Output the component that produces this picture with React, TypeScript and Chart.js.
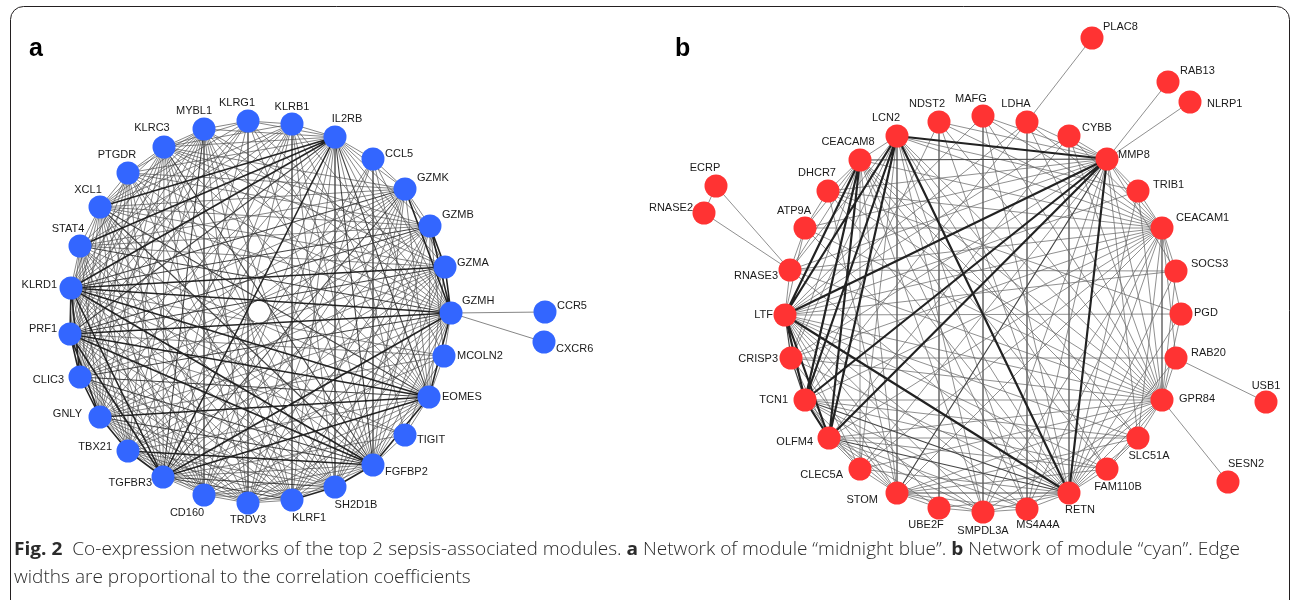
import { useEffect, useRef } from "react";
import { Chart, registerables } from "chart.js";
Chart.register(...registerables);

// ---------- Panel a: module "midnight blue" ----------
const A_NAMES = ["MYBL1","KLRG1","KLRB1","IL2RB","CCL5","GZMK","GZMB","GZMA","GZMH","MCOLN2","EOMES","TIGIT","FGFBP2","SH2D1B","KLRF1","TRDV3","CD160","TGFBR3","TBX21","GNLY","CLIC3","PRF1","KLRD1","STAT4","XCL1","PTGDR","KLRC3","CCR5","CXCR6"];
const A_X = [204,248,292,335,373,405,430,445,451,444,429,405,373,335,292,248,204,163,128,100,80,70,71,80,100,128,164,545,544];
const A_Y = [129,121,124,137,159,189,226,267,313,356,397,435,465,487,500,503,495,477,451,417,377,334,288,246,207,173,147,312,342];
const A_HIDDEN_X = [259];
const A_HIDDEN_Y = [312];

const A_ADJ: Record<string, string[]> = {
  MYBL1: ["KLRG1","KLRC3","IL2RB","PTGDR","TGFBR3","CD160","TRDV3","KLRF1","SH2D1B","FGFBP2","EOMES","TBX21","GNLY","PRF1","KLRD1","CLIC3","GZMH","GZMA","XCL1","STAT4"],
  KLRG1: ["KLRB1","TGFBR3","FGFBP2","EOMES","KLRD1","PRF1","TRDV3","GZMH","CLIC3","XCL1","KLRC3"],
  KLRB1: ["IL2RB","KLRF1","TGFBR3","FGFBP2","EOMES","CD160","SH2D1B","PRF1","KLRD1","XCL1","GNLY","TBX21","KLRC3","STAT4","GZMH"],
  IL2RB: ["CCL5","GZMK","GZMB","GZMA","GZMH","MCOLN2","EOMES","TIGIT","FGFBP2","SH2D1B","KLRF1","TRDV3","CD160","TGFBR3","TBX21","GNLY","CLIC3","PRF1","KLRD1","STAT4","XCL1","PTGDR","KLRC3","KLRG1"],
  CCL5: ["GZMK","FGFBP2","TRDV3","CD160","TGFBR3","EOMES","GZMH"],
  GZMK: ["GZMB","GZMA","GZMH","EOMES","FGFBP2","SH2D1B","KLRF1","TRDV3","CD160","TGFBR3","TBX21","GNLY","CLIC3","PRF1","KLRD1","STAT4","XCL1","PTGDR","KLRC3"],
  GZMB: ["GZMA","GZMH","MCOLN2","EOMES","FGFBP2","SH2D1B","KLRF1","TGFBR3","TBX21","GNLY","CLIC3","PRF1","KLRD1","STAT4","XCL1","PTGDR","KLRC3","TRDV3"],
  GZMA: ["GZMH","EOMES","FGFBP2","SH2D1B","KLRF1","TGFBR3","TBX21","GNLY","CLIC3","PRF1","KLRD1","STAT4","XCL1","KLRC3","CD160"],
  GZMH: ["CCR5","CXCR6","MCOLN2","EOMES","TIGIT","FGFBP2","SH2D1B","KLRF1","TRDV3","CD160","TGFBR3","TBX21","GNLY","CLIC3","PRF1","KLRD1","STAT4","XCL1","PTGDR","KLRC3"],
  MCOLN2: ["EOMES","FGFBP2","KLRD1","PRF1","TGFBR3","GNLY"],
  EOMES: ["TIGIT","FGFBP2","SH2D1B","KLRF1","TRDV3","CD160","TGFBR3","TBX21","GNLY","CLIC3","PRF1","KLRD1","STAT4","XCL1","PTGDR","KLRC3"],
  TIGIT: ["FGFBP2","KLRD1","PRF1","TGFBR3"],
  FGFBP2: ["SH2D1B","KLRF1","TRDV3","CD160","TGFBR3","TBX21","GNLY","CLIC3","PRF1","KLRD1","STAT4","XCL1","PTGDR","KLRC3"],
  SH2D1B: ["KLRF1","TRDV3","CD160","TGFBR3","TBX21","GNLY","CLIC3","PRF1","KLRD1","STAT4","XCL1","PTGDR","KLRC3"],
  KLRF1: ["TRDV3","CD160","TGFBR3","TBX21","GNLY","CLIC3","PRF1","KLRD1","STAT4","XCL1","PTGDR","KLRC3"],
  TRDV3: ["CD160","TGFBR3","TBX21","GNLY","CLIC3","PRF1","KLRD1","XCL1","KLRC3"],
  CD160: ["TGFBR3","TBX21","GNLY","CLIC3","PRF1","KLRD1","STAT4","XCL1","PTGDR","KLRC3"],
  TGFBR3: ["TBX21","GNLY","CLIC3","PRF1","KLRD1","STAT4","XCL1","PTGDR","KLRC3"],
  TBX21: ["GNLY","CLIC3","PRF1","KLRD1","STAT4","XCL1","PTGDR","KLRC3"],
  GNLY: ["CLIC3","PRF1","KLRD1","STAT4","XCL1","PTGDR","KLRC3"],
  CLIC3: ["PRF1","KLRD1","STAT4","XCL1","PTGDR","KLRC3"],
  PRF1: ["KLRD1","STAT4","XCL1","PTGDR","KLRC3"],
  KLRD1: ["STAT4","XCL1","PTGDR","KLRC3"],
  STAT4: ["XCL1"],
  XCL1: ["PTGDR","KLRC3"],
  PTGDR: ["KLRC3"],
};
const A_STRONG: [string, string][] = [
  ["GZMH","KLRD1"],["GZMH","PRF1"],["GZMH","TGFBR3"],["GZMH","EOMES"],["GZMH","GZMA"],["GZMH","GZMB"],["GZMK","GZMH"],
  ["EOMES","KLRD1"],["EOMES","PRF1"],["EOMES","TGFBR3"],["EOMES","FGFBP2"],["FGFBP2","KLRD1"],["FGFBP2","PRF1"],
  ["FGFBP2","TBX21"],["FGFBP2","SH2D1B"],["KLRF1","SH2D1B"],["IL2RB","KLRD1"],["IL2RB","TGFBR3"],["PRF1","KLRD1"],
  ["CLIC3","PRF1"],["GNLY","CLIC3"],["GNLY","TBX21"],["TBX21","TGFBR3"],["KLRD1","TGFBR3"],["PRF1","TGFBR3"],
  ["GZMA","KLRD1"],["KLRD1","CLIC3"],["GNLY","PRF1"],["EOMES","GNLY"],["IL2RB","STAT4"],["GZMA","GZMB"],["IL2RB","XCL1"],
];
const A_MEDIUM: [string, string][] = [
  ["GZMK","KLRD1"],["GZMK","TGFBR3"],["GZMB","PRF1"],["GZMB","KLRD1"],["GZMA","PRF1"],["GZMH","CLIC3"],["EOMES","CLIC3"],
  ["FGFBP2","CLIC3"],["FGFBP2","GNLY"],["IL2RB","PRF1"],["IL2RB","FGFBP2"],["IL2RB","EOMES"],["MYBL1","TGFBR3"],
  ["KLRC3","FGFBP2"],["XCL1","FGFBP2"],["XCL1","EOMES"],["STAT4","GZMH"],["TGFBR3","SH2D1B"],["TGFBR3","KLRF1"],
];

// ---------- Panel b: module "cyan" ----------
const B_NAMES = ["LCN2","NDST2","MAFG","LDHA","CYBB","MMP8","TRIB1","CEACAM1","SOCS3","PGD","RAB20","GPR84","SLC51A","FAM110B","RETN","MS4A4A","SMPDL3A","UBE2F","STOM","CLEC5A","OLFM4","TCN1","CRISP3","LTF","RNASE3","ATP9A","DHCR7","CEACAM8","PLAC8","RAB13","NLRP1","ECRP","RNASE2","USB1","SESN2"];
const B_X = [897,939,983,1027,1069,1107,1138,1162,1176,1181,1176,1162,1138,1107,1069,1027,983,939,897,860,829,805,791,785,790,805,828,860,1092,1168,1190,716,704,1266,1228];
const B_Y = [136,122,116,122,136,159,191,228,271,314,358,400,438,469,493,509,512,508,493,469,438,400,358,315,270,228,191,160,38,82,102,186,213,402,482];

const B_ADJ: Record<string, string[]> = {
  LCN2: ["CEACAM8","MMP8","LTF","TCN1","OLFM4","RETN","STOM","CRISP3","CLEC5A","CEACAM1","GPR84","SLC51A","MS4A4A","SMPDL3A","RNASE3","TRIB1","FAM110B"],
  NDST2: ["CEACAM1","GPR84","RETN","UBE2F","MMP8","TCN1"],
  MAFG: ["SMPDL3A","CEACAM1","GPR84","RETN","MMP8","LTF"],
  LDHA: ["PLAC8","MS4A4A","MMP8","CEACAM1","GPR84","TCN1","LTF"],
  CYBB: ["MMP8","RETN","CEACAM1","GPR84","OLFM4","LTF"],
  MMP8: ["RAB13","NLRP1","TRIB1","CEACAM1","CEACAM8","LTF","TCN1","OLFM4","RETN","STOM","CLEC5A","CRISP3","RNASE3","ATP9A","DHCR7","GPR84","SLC51A","MS4A4A","SMPDL3A","SOCS3"],
  TRIB1: ["CEACAM1","RETN","GPR84","LTF"],
  CEACAM1: ["ATP9A","DHCR7","CEACAM8","SOCS3","PGD","RAB20","GPR84","SLC51A","RETN","MS4A4A","SMPDL3A","STOM","OLFM4","TCN1","LTF","CRISP3","RNASE3","CLEC5A"],
  SOCS3: ["GPR84","RETN","LTF","RNASE3"],
  PGD: ["LTF","GPR84","RETN","DHCR7"],
  RAB20: ["USB1","GPR84","RETN","CRISP3"],
  GPR84: ["SESN2","TCN1","SLC51A","FAM110B","RETN","MS4A4A","SMPDL3A","STOM","CLEC5A","OLFM4","CRISP3","LTF","RNASE3","ATP9A","DHCR7","CEACAM8"],
  SLC51A: ["RETN","FAM110B","OLFM4","TCN1","LTF","CEACAM8","STOM"],
  FAM110B: ["RETN","LTF","TCN1","OLFM4","CEACAM8","STOM"],
  RETN: ["MS4A4A","SMPDL3A","UBE2F","STOM","CLEC5A","OLFM4","TCN1","CRISP3","LTF","RNASE3","ATP9A","DHCR7","CEACAM8"],
  MS4A4A: ["SMPDL3A","STOM","OLFM4","TCN1","LTF","CEACAM8"],
  SMPDL3A: ["STOM","UBE2F","OLFM4","TCN1","LTF","CEACAM8"],
  UBE2F: ["STOM","OLFM4","LTF"],
  STOM: ["CLEC5A","OLFM4","TCN1","LTF","CRISP3","CEACAM8","DHCR7"],
  CLEC5A: ["OLFM4","TCN1","LTF","CEACAM8"],
  OLFM4: ["TCN1","CRISP3","LTF","CEACAM8"],
  TCN1: ["CRISP3","LTF","CEACAM8"],
  CRISP3: ["LTF","CEACAM8"],
  LTF: ["RNASE3","ATP9A","CEACAM8"],
  RNASE3: ["ECRP","RNASE2","ATP9A","CEACAM8"],
  ATP9A: ["DHCR7","CEACAM8"],
  DHCR7: ["CEACAM8"],
  ECRP: ["RNASE2"],
};
const B_STRONG: [string, string][] = [
  ["LCN2","MMP8"],["LCN2","LTF"],["LCN2","TCN1"],["LCN2","OLFM4"],["LCN2","RETN"],["CEACAM8","LTF"],["CEACAM8","TCN1"],
  ["CEACAM8","OLFM4"],["MMP8","LTF"],["MMP8","TCN1"],["MMP8","OLFM4"],["MMP8","RETN"],["LTF","RETN"],["LTF","TCN1"],
  ["LTF","OLFM4"],["TCN1","OLFM4"],
];
const B_MEDIUM: [string, string][] = [
  ["MMP8","STOM"],["TCN1","RETN"],["OLFM4","RETN"],["MMP8","CEACAM8"],["CEACAM1","GPR84"],["STOM","RETN"],["LTF","CRISP3"],["TCN1","CRISP3"],
];

// ---------- Label placement (style) ----------
const A_LABELS: Record<string, [number, number, string]> = {
  MYBL1: [-10,-18,"c"], KLRG1: [-11,-18,"c"], KLRB1: [0,-17,"c"], IL2RB: [12,-18,"c"], CCL5: [12,-5,"l"], GZMK: [12,-11,"l"],
  GZMB: [12,-11,"l"], GZMA: [12,-4,"l"], GZMH: [11,-12,"l"], CCR5: [12,-6,"l"], CXCR6: [12,7,"l"], MCOLN2: [13,0,"l"],
  EOMES: [13,0,"l"], TIGIT: [12,5,"l"], FGFBP2: [12,7,"l"], SH2D1B: [21,18,"c"], KLRF1: [17,18,"c"], TRDV3: [0,17,"c"],
  CD160: [-17,18,"c"], TGFBR3: [-11,6,"r"], TBX21: [-16,-4,"r"], GNLY: [-18,-3,"r"], CLIC3: [-16,3,"r"], PRF1: [-13,-5,"r"],
  KLRD1: [-14,-3,"r"], STAT4: [-12,-17,"c"], XCL1: [-12,-17,"c"], PTGDR: [-11,-18,"c"], KLRC3: [-12,-19,"c"],
};
const B_LABELS: Record<string, [number, number, string]> = {
  LCN2: [-11,-18,"c"], NDST2: [-12,-18,"c"], MAFG: [-12,-17,"c"], LDHA: [-11,-18,"c"], CYBB: [13,-8,"l"], MMP8: [11,-4,"l"],
  PLAC8: [11,-11,"l"], RAB13: [12,-11,"l"], NLRP1: [17,2,"l"], TRIB1: [15,-6,"l"], CEACAM1: [14,-10,"l"], SOCS3: [15,-7,"l"],
  PGD: [13,-1,"l"], RAB20: [15,-5,"l"], GPR84: [17,-1,"l"], USB1: [0,-16,"c"], SESN2: [18,-18,"c"], SLC51A: [11,18,"c"],
  FAM110B: [11,18,"c"], RETN: [11,17,"c"], MS4A4A: [11,16,"c"], SMPDL3A: [0,19,"c"], UBE2F: [-13,17,"c"], STOM: [-19,7,"r"],
  CLEC5A: [-17,6,"r"], OLFM4: [-16,4,"r"], TCN1: [-17,0,"r"], CRISP3: [-13,1,"r"], LTF: [-12,0,"r"], RNASE3: [-12,6,"r"],
  ATP9A: [-11,-17,"c"], DHCR7: [-11,-18,"c"], CEACAM8: [-12,-18,"c"], ECRP: [-11,-18,"c"], RNASE2: [-11,-5,"r"],
};

const CAPTION_1: [string, boolean][] = [
  ["Fig. 2", true], ["  Co-expression networks of the top 2 sepsis-associated modules. ", false], ["a", true],
  [" Network of module \u201cmidnight blue\u201d. ", false], ["b", true], [" Network of module \u201ccyan\u201d. Edge", false],
];
const CAPTION_2 = "widths are proportional to the correlation coefficients";

function posMap(names: string[], xs: number[], ys: number[]) {
  const m: Record<string, { x: number; y: number }> = {};
  names.forEach((n, i) => (m[n] = { x: xs[i], y: ys[i] }));
  return m;
}
function key(a: string, b: string) { return a < b ? a + "|" + b : b + "|" + a; }

function edgeSets(adj: Record<string, string[]>, strong: [string, string][], medium: [string, string][]) {
  const seen = new Set<string>();
  const sKeys = new Set(strong.map(([a, b]) => key(a, b)));
  const mKeys = new Set(medium.map(([a, b]) => key(a, b)));
  const thin: [string, string][] = [], mid: [string, string][] = [], thick: [string, string][] = [];
  const add = (a: string, b: string) => {
    const k = key(a, b);
    if (seen.has(k)) return;
    seen.add(k);
    if (sKeys.has(k)) thick.push([a, b]);
    else if (mKeys.has(k)) mid.push([a, b]);
    else thin.push([a, b]);
  };
  Object.keys(adj).forEach((a) => adj[a].forEach((b) => add(a, b)));
  strong.forEach(([a, b]) => add(a, b));
  medium.forEach(([a, b]) => add(a, b));
  return { thin, mid, thick };
}

function lineData(pairs: [string, string][], pos: Record<string, { x: number; y: number }>) {
  const out: { x: number; y: number | null }[] = [];
  pairs.forEach(([a, b]) => {
    out.push({ x: pos[a].x, y: pos[a].y });
    out.push({ x: pos[b].x, y: pos[b].y });
    out.push({ x: pos[b].x, y: null });
  });
  return out;
}

function edgeDataset(data: any[], color: string, width: number, order: number) {
  return {
    type: "scatter" as const,
    data,
    showLine: true,
    spanGaps: false,
    borderColor: color,
    borderWidth: width,
    pointRadius: 0,
    pointHoverRadius: 0,
    pointHitRadius: 0,
    tension: 0,
    order,
  };
}

export default function App() {
  const ref = useRef<HTMLCanvasElement>(null);
  useEffect(() => {
    const posA = posMap(A_NAMES, A_X, A_Y);
    const posB = posMap(B_NAMES, B_X, B_Y);
    const eA = edgeSets(A_ADJ, A_STRONG, A_MEDIUM);
    const eB = edgeSets(B_ADJ, B_STRONG, B_MEDIUM);

    const labelPlugin = {
      id: "netLabels",
      beforeDraw(chart: any) {
        const ctx = chart.ctx as CanvasRenderingContext2D;
        ctx.save();
        ctx.fillStyle = "#fff";
        ctx.fillRect(0, 0, chart.width, chart.height);
        ctx.strokeStyle = "#231f20";
        ctx.lineWidth = 1;
        ctx.beginPath();
        (ctx as any).roundRect(10.5, 6.5, 1279, 620, 13);
        ctx.stroke();
        ctx.restore();
      },
      afterDatasetsDraw(chart: any) {
        const ctx = chart.ctx as CanvasRenderingContext2D;
        const xs = chart.scales.x, ys = chart.scales.y;
        ctx.save();
        ctx.fillStyle = "#1a1a1a";
        ctx.font = "11px 'Liberation Sans', Arial, sans-serif";
        ctx.textBaseline = "middle";
        const drawSet = (names: string[], X: number[], Y: number[], lab: Record<string, [number, number, string]>) => {
          names.forEach((n, i) => {
            const l = lab[n];
            if (!l) return;
            const px = xs.getPixelForValue(X[i]) + l[0];
            const py = ys.getPixelForValue(Y[i]) + l[1];
            ctx.textAlign = l[2] === "c" ? "center" : l[2] === "l" ? "left" : "right";
            ctx.fillText(n, px, py);
          });
        };
        drawSet(A_NAMES, A_X, A_Y, A_LABELS);
        drawSet(B_NAMES, B_X, B_Y, B_LABELS);
        ctx.textAlign = "left";
        ctx.textBaseline = "alphabetic";
        ctx.fillStyle = "#000";
        ctx.font = "bold 25px 'Liberation Sans', Arial, sans-serif";
        ctx.fillText("a", 29, 56);
        ctx.fillText("b", 675, 56);
        const fN = "300 18px 'Open Sans', 'Noto Sans', sans-serif";
        const fB = "bold 18px 'Open Sans', 'Noto Sans', sans-serif";
        let total = 0;
        CAPTION_1.forEach(([t, b]) => { ctx.font = b ? fB : fN; total += ctx.measureText(t).width; });
        const sx = 1226 / total;
        ctx.fillStyle = "#2b2b2b";
        ctx.save();
        ctx.translate(14, 555);
        ctx.scale(sx, 1);
        let cx = 0;
        CAPTION_1.forEach(([t, b]) => { ctx.font = b ? fB : fN; ctx.fillText(t, cx, 0); cx += ctx.measureText(t).width; });
        ctx.restore();
        ctx.save();
        ctx.translate(14, 583);
        ctx.scale(sx, 1);
        ctx.font = fN;
        ctx.fillText(CAPTION_2, 0, 0);
        ctx.restore();
        ctx.restore();
      },
    };

    const chart = new Chart(ref.current!, {
      type: "scatter",
      data: {
        datasets: [
          { data: A_X.map((x, i) => ({ x, y: A_Y[i] })), pointRadius: 11.5, pointHoverRadius: 11.5, pointBackgroundColor: "#3366ff", pointBorderWidth: 0, order: 0 },
          { data: B_X.map((x, i) => ({ x, y: B_Y[i] })), pointRadius: 11.5, pointHoverRadius: 11.5, pointBackgroundColor: "#ff3333", pointBorderWidth: 0, order: 0 },
          { data: A_HIDDEN_X.map((x, i) => ({ x, y: A_HIDDEN_Y[i] })), pointRadius: 10.5, pointBackgroundColor: "#ffffff", pointBorderWidth: 0, order: 1 },
          edgeDataset(lineData(eA.thick, posA), "rgba(25,25,25,0.95)", 1.6, 2),
          edgeDataset(lineData(eA.mid, posA), "rgba(50,50,50,0.9)", 1.1, 3),
          edgeDataset(lineData(eA.thin, posA), "rgba(75,75,75,0.8)", 0.85, 4),
          edgeDataset(lineData(eB.thick, posB), "#222222", 2.2, 2),
          edgeDataset(lineData(eB.mid, posB), "#444444", 1.2, 3),
          edgeDataset(lineData(eB.thin, posB), "rgba(100,100,100,0.9)", 0.8, 4),
        ] as any,
      },
      options: {
        animation: false,
        responsive: false,
        events: [],
        layout: { padding: 0, autoPadding: false } as any,
        plugins: { legend: { display: false }, tooltip: { enabled: false } },
        scales: {
          x: { type: "linear", min: 0, max: 1293, display: false },
          y: { type: "linear", min: 0, max: 600, reverse: true, display: false },
        },
      },
      plugins: [labelPlugin],
    });
    return () => chart.destroy();
  }, []);
  return (
    <div style={{ position: "absolute", left: 0, top: 0, width: 1293, height: 600 }}>
      <canvas ref={ref} width={1293} height={600} />
    </div>
  );
}
